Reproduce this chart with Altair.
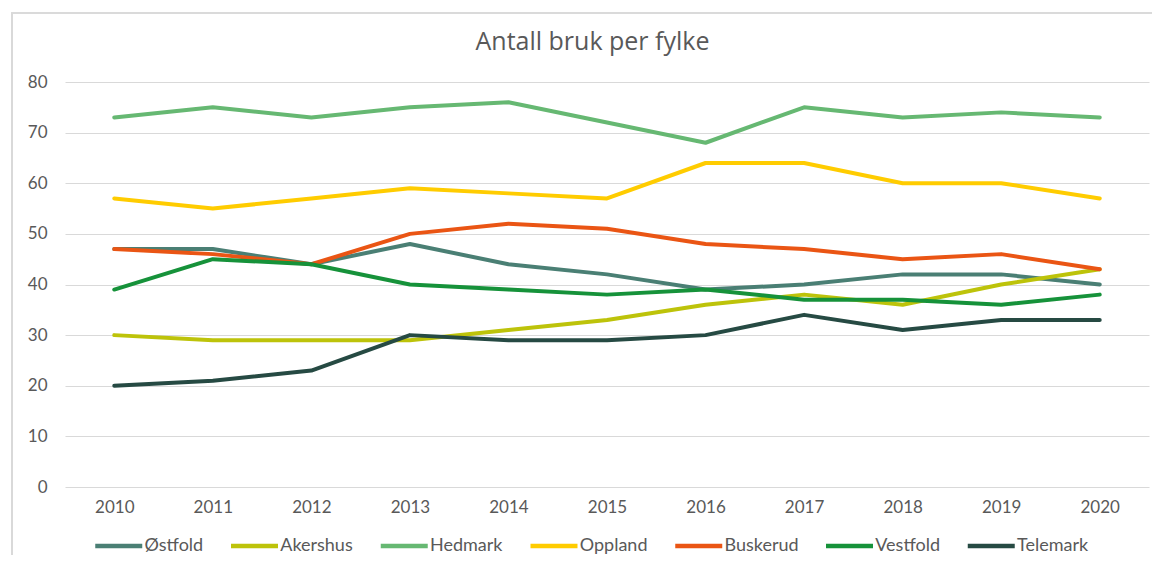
import altair as alt
import pandas as pd

years = [2010, 2011, 2012, 2013, 2014, 2015, 2016, 2017, 2018, 2019, 2020]
series_names = ["Østfold", "Akershus", "Hedmark", "Oppland", "Buskerud", "Vestfold", "Telemark"]
ostfold = [47, 47, 44, 48, 44, 42, 39, 40, 42, 42, 40]
akershus = [30, 29, 29, 29, 31, 33, 36, 38, 36, 40, 43]
hedmark = [73, 75, 73, 75, 76, 72, 68, 75, 73, 74, 73]
oppland = [57, 55, 57, 59, 58, 57, 64, 64, 60, 60, 57]
buskerud = [47, 46, 44, 50, 52, 51, 48, 47, 45, 46, 43]
vestfold = [39, 45, 44, 40, 39, 38, 39, 37, 37, 36, 38]
telemark = [20, 21, 23, 30, 29, 29, 30, 34, 31, 33, 33]
colors = ["#4A7F74", "#BDC30A", "#66B872", "#FFCC00", "#EA5514", "#16923A", "#264A43"]
y_ticks = [0, 10, 20, 30, 40, 50, 60, 70, 80]

values = [ostfold, akershus, hedmark, oppland, buskerud, vestfold, telemark]
rows = []
for name, vals in zip(series_names, values):
    for yr, v in zip(years, vals):
        rows.append({"year": str(yr), "fylke": name, "antall": v, "order": series_names.index(name)})
df = pd.DataFrame(rows)

FONT = "Lato"
GRAY = "#595959"

lines = alt.Chart(df).mark_line(strokeWidth=4, strokeCap="round", strokeJoin="round").encode(
    x=alt.X("year:O", scale=alt.Scale(type="point", padding=0.5),
            axis=alt.Axis(title=None, labelAngle=0, ticks=False, domain=False, grid=False,
                          labelPadding=12, labelFontSize=17, labelColor=GRAY, labelFont=FONT)),
    y=alt.Y("antall:Q", scale=alt.Scale(domain=[0, 80], nice=False),
            axis=alt.Axis(title=None, values=y_ticks, ticks=False, domain=False, grid=True,
                          gridColor="#D9D9D9", gridWidth=1.2, labelPadding=18,
                          labelFontSize=17, labelColor=GRAY, labelFont=FONT)),
    color=alt.Color("fylke:N", scale=alt.Scale(domain=series_names, range=colors),
                    legend=alt.Legend(title=None, orient="none", direction="horizontal",
                                      legendX=39.75, legendY=450, symbolType="M-2,0H2",
                                      symbolSize=552, symbolStrokeWidth=4.5,
                                      labelOffset=11.75, columnPadding=17.75,
                                      labelFontSize=18, labelColor=GRAY, labelFont=FONT)),
    order=alt.Order("order:Q"),
    detail="fylke:N",
)

frame = alt.Chart(df).mark_rect(fill=None, stroke="#D9D9D9", strokeWidth=1.2, clip=False).encode(
    x=alt.value(-53), x2=alt.value(1110), y=alt.value(-69), y2=alt.value(500)
)

chart = alt.layer(frame, lines).properties(
    width=1084, height=405,
    autosize=alt.AutoSizeParams(type="none"),
    padding={"left": 57, "top": 74, "right": 3, "bottom": 68},
    title=alt.TitleParams("Antall bruk per fylke", fontSize=25, font="Open Sans", color=GRAY,
                          fontWeight="normal", anchor="middle", dx=-14.5, offset=-63,
                          baseline="alphabetic"),
).configure_view(stroke=None)

chart.save("out.html", embed_options={"renderer": "svg", "actions": False})
